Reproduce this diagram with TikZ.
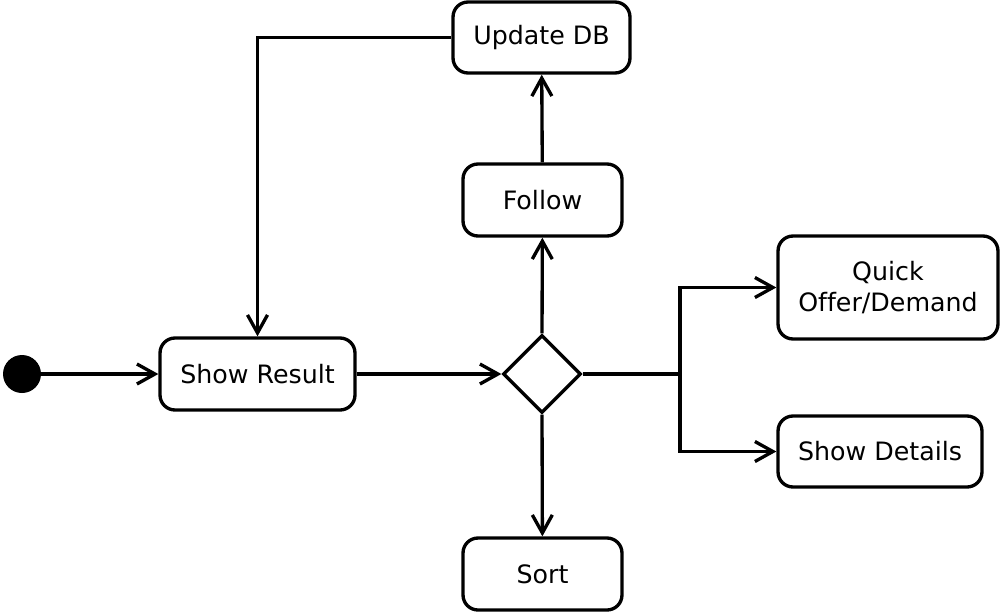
\documentclass[tikz,border=0pt]{standalone}
\usepackage{fontspec}
\setmainfont[Ligatures=NoCommon]{DejaVu Sans}
\usetikzlibrary{arrows.meta,shapes.geometric}
\begin{document}
\begin{tikzpicture}[x=0.02cm,y=-0.02cm,
  act/.style={draw,line width=1.9pt,rounded corners=0.3cm,align=center,inner sep=0pt,font=\fontsize{14.4}{17.5}\selectfont},
  flow/.style={line width=1.9pt,-{Straight Barb[length=0.36cm,width=0.4cm,line width=1.9pt]}}]
\useasboundingbox (0,0) rectangle (1000,613);
\node[circle,fill=black,minimum size=0.76cm,inner sep=0pt] (start) at (22,374) {};
\node[act,minimum width=3.9cm,minimum height=1.44cm] (show) at (257.5,374) {Show Result};
\node[draw,line width=1.9pt,diamond,minimum width=1.56cm,minimum height=1.56cm,inner sep=0pt] (dec) at (542,374) {};
\node[act,minimum width=3.18cm,minimum height=1.44cm] (follow) at (542.5,200) {Follow};
\node[act,minimum width=3.54cm,minimum height=1.42cm] (upd) at (541.5,37.5) {Update DB};
\node[act,minimum width=4.4cm,minimum height=2.06cm] (quick) at (888,287.5) {Quick\\Offer/Demand};
\node[act,minimum width=4.08cm,minimum height=1.42cm] (det) at (880,451.5) {Show Details};
\node[act,minimum width=3.18cm,minimum height=1.44cm] (sort) at (542.5,574) {Sort};
\coordinate (br) at (680,374);
\draw[flow] (start) -- (show);
\draw[flow] (show) -- (dec.west);
\draw[flow] (dec.north) -- (follow);
\draw[flow] (follow) -- (upd);
\draw[flow] (upd.west) -| (show.north);
\draw[line width=1.9pt] (dec.east) -- (br);
\draw[flow] (br) |- (quick.west);
\draw[flow] (br) |- (det.west);
\draw[flow] (dec.south) -- (sort);
\end{tikzpicture}
\end{document}
